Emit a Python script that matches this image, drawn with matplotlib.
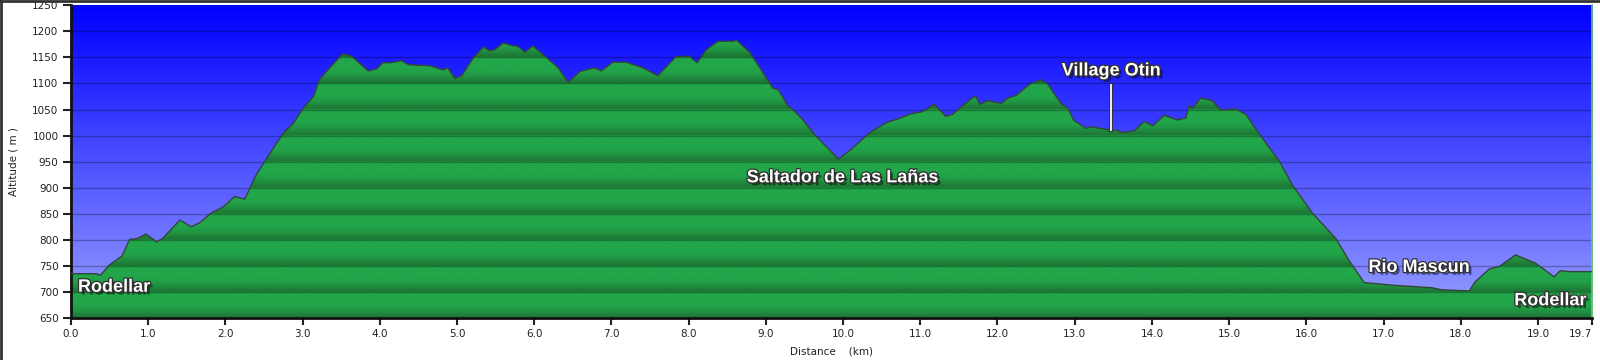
import numpy as np
import matplotlib
matplotlib.use("Agg")
import matplotlib.pyplot as plt
import matplotlib.patheffects as pe
from matplotlib.patches import Polygon
from matplotlib.lines import Line2D

# ---- data ----
distance_km = [0.00, 0.33, 0.38, 0.50, 0.66, 0.76, 0.85, 0.97, 1.11, 1.19, 1.41, 1.56, 1.67,
               1.82, 1.97, 2.12, 2.25, 2.40, 2.53, 2.66, 2.77, 2.88, 3.01, 3.14, 3.22, 3.35,
               3.52, 3.63, 3.85, 3.96, 4.04, 4.15, 4.28, 4.37, 4.65, 4.82, 4.88, 4.97, 5.06,
               5.21, 5.34, 5.42, 5.49, 5.60, 5.70, 5.79, 5.88, 5.98, 6.07, 6.18, 6.31, 6.44,
               6.59, 6.78, 6.87, 7.02, 7.19, 7.41, 7.60, 7.84, 8.01, 8.11, 8.23, 8.38, 8.57,
               8.62, 8.79, 8.94, 9.09, 9.16, 9.28, 9.35, 9.48, 9.63, 9.78, 9.94, 10.10, 10.34,
               10.56, 10.71, 10.88, 11.03, 11.18, 11.33, 11.42, 11.53, 11.68, 11.72, 11.77,
               11.87, 12.05, 12.13, 12.24, 12.41, 12.56, 12.65, 12.82, 12.91, 12.99, 13.15,
               13.21, 13.45, 13.53, 13.62, 13.77, 13.90, 14.01, 14.16, 14.33, 14.44, 14.48,
               14.53, 14.63, 14.78, 14.89, 15.09, 15.22, 15.39, 15.65, 15.82, 16.08, 16.38,
               16.55, 16.75, 17.11, 17.63, 17.76, 18.11, 18.19, 18.37, 18.50, 18.71, 18.97,
               19.21, 19.29, 19.40, 19.70]
altitude_m = [735, 735, 732, 752, 769, 801, 802, 811, 796, 803, 838, 825, 833,
              852, 863, 883, 878, 925, 955, 985, 1008, 1024, 1053, 1075, 1108, 1130,
              1157, 1153, 1124, 1128, 1140, 1140, 1144, 1136, 1134, 1126, 1130, 1110, 1115,
              1149, 1170, 1163, 1165, 1178, 1173, 1171, 1160, 1172, 1161, 1147, 1130, 1102,
              1123, 1130, 1124, 1141, 1141, 1130, 1115, 1152, 1152, 1140, 1165, 1181, 1181,
              1183, 1160, 1126, 1091, 1088, 1058, 1050, 1030, 1002, 979, 955, 973, 1005,
              1025, 1032, 1042, 1046, 1060, 1037, 1041, 1055, 1073, 1075, 1060,
              1067, 1062, 1072, 1077, 1098, 1107, 1099, 1062, 1053, 1029, 1014,
              1017, 1011, 1011, 1006, 1009, 1027, 1019, 1039, 1030, 1034, 1057,
              1053, 1072, 1067, 1049, 1051, 1040, 1003, 951, 905, 851, 803,
              761, 718, 713, 708, 704, 702, 720, 744, 749, 771, 755,
              729, 741, 739, 739]

x_ticks = [0, 1, 2, 3, 4, 5, 6, 7, 8, 9, 10, 11, 12, 13, 14, 15, 16, 17, 18, 19, 19.7]
x_tick_labels = ["0.0", "1.0", "2.0", "3.0", "4.0", "5.0", "6.0", "7.0", "8.0", "9.0", "10.0",
                 "11.0", "12.0", "13.0", "14.0", "15.0", "16.0", "17.0", "18.0", "19.0", "19.7"]
y_ticks = list(range(650, 1251, 50))

label_names = ["Rodellar", "Saltador de Las Lañas", "Village Otin", "Rio Mascun", "Rodellar"]
label_x = [0.09, 9.99, 13.47, 17.46, 19.16]
label_y = [709, 919, 1124, 747, 683]
label_ha = ["left", "center", "center", "center", "center"]
otin_marker_x = 13.47
otin_marker_y = [1097, 1011]

XMIN, XMAX, YMIN, YMAX = 0, 19.7, 650, 1250

fig = plt.figure(figsize=(16, 3.6), dpi=100)
fig.patch.set_facecolor("white")
ax = fig.add_axes([71 / 1600, 1 - 318 / 360, (1592 - 71) / 1600, (318 - 5.3) / 360])

# sky gradient
n = 300
t = np.linspace(0, 1, n)[:, None]
top = np.array([0, 0, 255]) / 255
bot = np.array([152, 160, 255]) / 255
sky = (top * (1 - t) + bot * t)[:, None, :].reshape(n, 1, 3)
ax.imshow(sky, extent=[XMIN, XMAX, YMIN, YMAX], aspect="auto", origin="upper",
          interpolation="bilinear", zorder=0)

# green banded gradient
alts = np.arange(YMIN, YMAX, 0.5)
frac = ((alts - YMIN) % 50) / 50.0  # 0 at lower gridline, 1 at upper gridline
dark = np.array([30, 120, 54]) / 255
light = np.array([34, 166, 74]) / 255
w = np.clip((frac - 0.05) / 0.55, 0, 1)
w = np.sin(w * np.pi / 2)
g = dark * (1 - w[:, None]) + light * w[:, None]
green = g[:, None, :]
im = ax.imshow(green, extent=[XMIN, XMAX, YMIN, YMAX], aspect="auto", origin="lower",
               interpolation="bilinear", zorder=1)
verts = [(distance_km[0], YMIN)] + list(zip(distance_km, altitude_m)) + [(distance_km[-1], YMIN)]
poly = Polygon(verts, closed=True, transform=ax.transData, facecolor="none", edgecolor="none")
ax.add_patch(poly)
im.set_clip_path(poly)

# outline
ax.plot(distance_km, altitude_m, color="#34463a", lw=1.0, zorder=3)

# gridlines
for yv in y_ticks[1:-1]:
    ax.axhline(yv, color="black", alpha=0.28, lw=1, zorder=2)

ax.set_xlim(XMIN, XMAX)
ax.set_ylim(YMIN, YMAX)
ax.set_xticks(x_ticks)
ax.set_xticklabels(x_tick_labels)
ax.set_yticks(y_ticks)
ax.tick_params(axis="both", labelsize=7.5, colors="#222222", length=6, width=1.5,
               direction="out", pad=3)
ax.tick_params(axis="x", length=5)
ax.get_xticklabels()[-1].set_horizontalalignment("right")
for side in ["left", "bottom"]:
    ax.spines[side].set_linewidth(2)
    ax.spines[side].set_color("#111111")
ax.spines["top"].set_visible(False)
ax.spines["right"].set_color("#66cc66")
ax.spines["right"].set_linewidth(1.2)

ax.set_ylabel("Altitude ( m )", fontsize=7.5, color="#222222", labelpad=10)
ax.set_xlabel("Distance    (km)", fontsize=7.5, color="#222222", labelpad=5)

effects = [pe.SimplePatchShadow(offset=(2, -2), shadow_rgbFace="black", alpha=0.5),
           pe.Stroke(linewidth=1.8, foreground="#303030"), pe.Normal()]
for name, lx, ly, ha in zip(label_names, label_x, label_y, label_ha):
    ax.text(lx, ly, name, ha=ha, va="center", fontsize=13, fontweight="bold",
            family="Liberation Sans", color="white", path_effects=effects, zorder=5)

ax.add_line(Line2D([otin_marker_x, otin_marker_x], otin_marker_y, color="white", lw=1.3,
                   zorder=5, path_effects=[pe.Stroke(linewidth=2.6, foreground="#303030"), pe.Normal()]))

# figure border (top/left dark)
fig.add_artist(Line2D([0, 1], [0.998, 0.998], transform=fig.transFigure, color="#333333", lw=2))
fig.add_artist(Line2D([0.0008, 0.0008], [0, 1], transform=fig.transFigure, color="#333333", lw=2))

fig.savefig("out.png", dpi=100)
